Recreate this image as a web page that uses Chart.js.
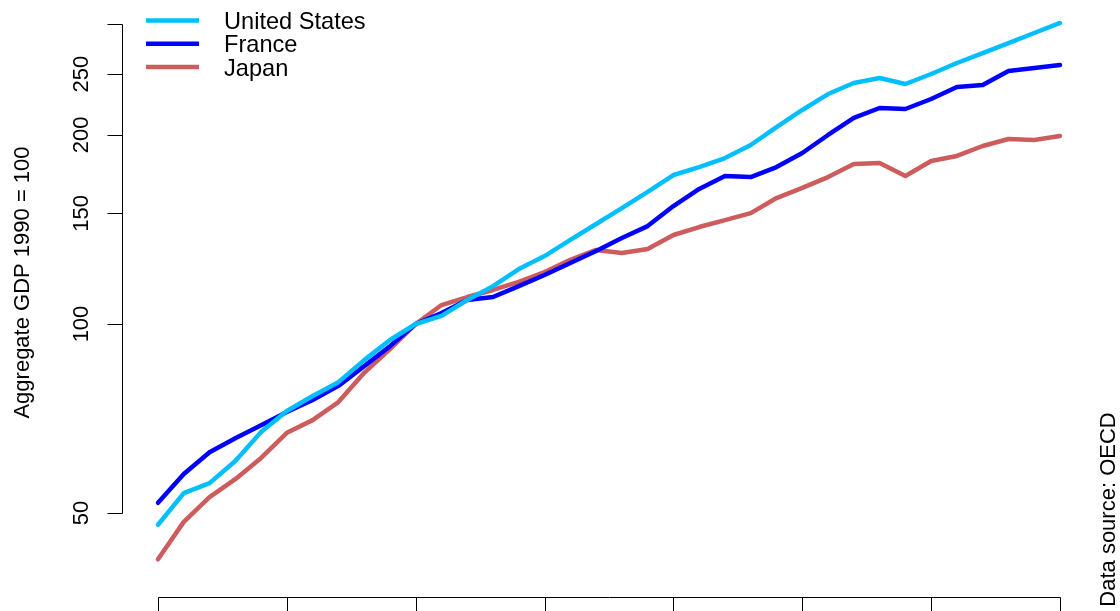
<!DOCTYPE html>
<html><head><meta charset="utf-8">
<script src="https://cdn.jsdelivr.net/npm/chart.js@4.4.1/dist/chart.umd.min.js"></script>
<style>
html,body{margin:0;padding:0;background:#fff;overflow:hidden}
#wrap{position:relative;width:1120px;height:611px}
</style>
</head><body>
<div id="wrap"><canvas id="c"></canvas></div>
<script>
const years = [1980,1981,1982,1983,1984,1985,1986,1987,1988,1989,1990,1991,1992,1993,1994,1995,1996,1997,1998,1999,2000,2001,2002,2003,2004,2005,2006,2007,2008,2009,2010,2011,2012,2013,2014,2015];
const usGdp = [47.9,53.8,55.8,60.5,67.3,72.7,76.8,80.8,87.6,94.3,100,103.0,109.2,114.9,122.3,128.3,136.1,144.3,153.0,162.3,172.7,177.8,183.8,192.8,205.9,219.2,232.4,242.0,246.5,241.1,250.1,260.4,270.1,280.2,290.7,301.6];
const franceGdp = [51.9,57.7,62.5,65.8,69.0,72.4,75.7,79.7,85.7,92.2,100,104.1,109.2,110.4,114.9,119.7,125.1,130.7,137.1,143.2,154.1,164.1,172.1,171.4,177.8,187.2,200.0,212.9,220.8,220.0,228.2,238.5,240.2,252.9,255.7,258.5];
const japanGdp = [42.2,48.4,53.0,56.6,61.2,67.1,70.3,75.1,83.6,91.2,100,107.2,110.4,113.3,116.7,121.0,126.5,131.2,129.7,131.7,138.6,142.7,146.4,150.2,158.7,164.7,171.4,179.8,180.5,172.1,181.8,185.2,192.1,197.1,196.4,199.3];
const seriesNames = ['United States','France','Japan'];
const seriesColors = ['#00BFFF','#0000FF','#CD5C5C'];
const yTicks = [50,100,150,200,250,300];
const yTickLabels = ['50','100','150','200','250',''];
const xTicks = [1980,1985,1990,1995,2000,2005,2010,2015];
const yTitle = 'Aggregate GDP 1990 = 100';
const sourceNote = 'Data source: OECD';

const FONT = '"Liberation Sans", Arial, Helvetica, sans-serif';

function pts(vals){ return years.map((y,i)=>({x:y, y:vals[i]})); }

const rAxes = {
  id:'rAxes',
  afterDraw(chart){
    const ctx = chart.ctx, xs = chart.scales.x, ys = chart.scales.y;
    ctx.save();
    ctx.strokeStyle = '#000'; ctx.fillStyle = '#000'; ctx.lineWidth = 1;
    // y axis
    const ax = 122.5;
    ctx.beginPath();
    ctx.moveTo(ax, Math.round(ys.getPixelForValue(yTicks[0]))+0.5);
    ctx.lineTo(ax, Math.round(ys.getPixelForValue(yTicks[yTicks.length-1]))+0.5);
    yTicks.forEach(t=>{
      const py = Math.round(ys.getPixelForValue(t))+0.5;
      ctx.moveTo(ax, py); ctx.lineTo(ax-15, py);
    });
    ctx.stroke();
    ctx.font = '22px ' + FONT;
    ctx.textAlign = 'center'; ctx.textBaseline = 'alphabetic';
    yTicks.forEach((t,i)=>{
      if(!yTickLabels[i]) return;
      const py = ys.getPixelForValue(t);
      ctx.save(); ctx.translate(87.5, py); ctx.rotate(-Math.PI/2);
      ctx.fillText(yTickLabels[i], 0, 0); ctx.restore();
    });
    // x axis
    const ay = 597.5;
    ctx.beginPath();
    ctx.moveTo(Math.round(xs.getPixelForValue(xTicks[0]))+0.5, ay);
    ctx.lineTo(Math.round(xs.getPixelForValue(xTicks[xTicks.length-1]))+0.5, ay);
    xTicks.forEach(t=>{
      const px = Math.round(xs.getPixelForValue(t))+0.5;
      ctx.moveTo(px, ay); ctx.lineTo(px, ay+16);
    });
    ctx.stroke();
    // y title
    ctx.save(); ctx.translate(29, 282.5); ctx.rotate(-Math.PI/2);
    ctx.textAlign = 'center'; ctx.fillText(yTitle, 0, 0); ctx.restore();
    // source note
    ctx.save(); ctx.translate(1115, 509.5); ctx.rotate(-Math.PI/2);
    ctx.textAlign = 'center'; ctx.fillText(sourceNote, 0, 0); ctx.restore();
    // legend
    const legY = [20.5, 43.8, 67.1];
    ctx.font = '23.6px ' + FONT; ctx.textAlign = 'left';
    chart.data.datasets.forEach((ds,i)=>{
      ctx.strokeStyle = ds.borderColor; ctx.lineWidth = 4.5; ctx.lineCap = 'butt';
      ctx.beginPath(); ctx.moveTo(146, legY[i]); ctx.lineTo(199, legY[i]); ctx.stroke();
      ctx.fillStyle = '#000';
      ctx.fillText(ds.label, 224, legY[i] + 8.4);
    });
    ctx.restore();
  }
};

new Chart(document.getElementById('c'), {
  type:'line',
  data:{
    datasets:[
      {label:seriesNames[0], data:pts(usGdp), borderColor:seriesColors[0]},
      {label:seriesNames[1], data:pts(franceGdp), borderColor:seriesColors[1]},
      {label:seriesNames[2], data:pts(japanGdp), borderColor:seriesColors[2]}
    ]
  },
  options:{
    responsive:true, maintainAspectRatio:false, animation:false,
    layout:{padding:0},
    elements:{
      line:{borderWidth:4.5, tension:0, borderCapStyle:'round', borderJoinStyle:'round', fill:false},
      point:{radius:0, hoverRadius:0}
    },
    plugins:{legend:{display:false}, tooltip:{enabled:false}, title:{display:false}},
    events:[],
    scales:{
      x:{type:'linear', display:false, min:1973.869, max:2017.328},
      y:{type:'logarithmic', display:false, min:34.91, max:328.1}
    }
  },
  plugins:[rAxes]
});
</script>
</body></html>
